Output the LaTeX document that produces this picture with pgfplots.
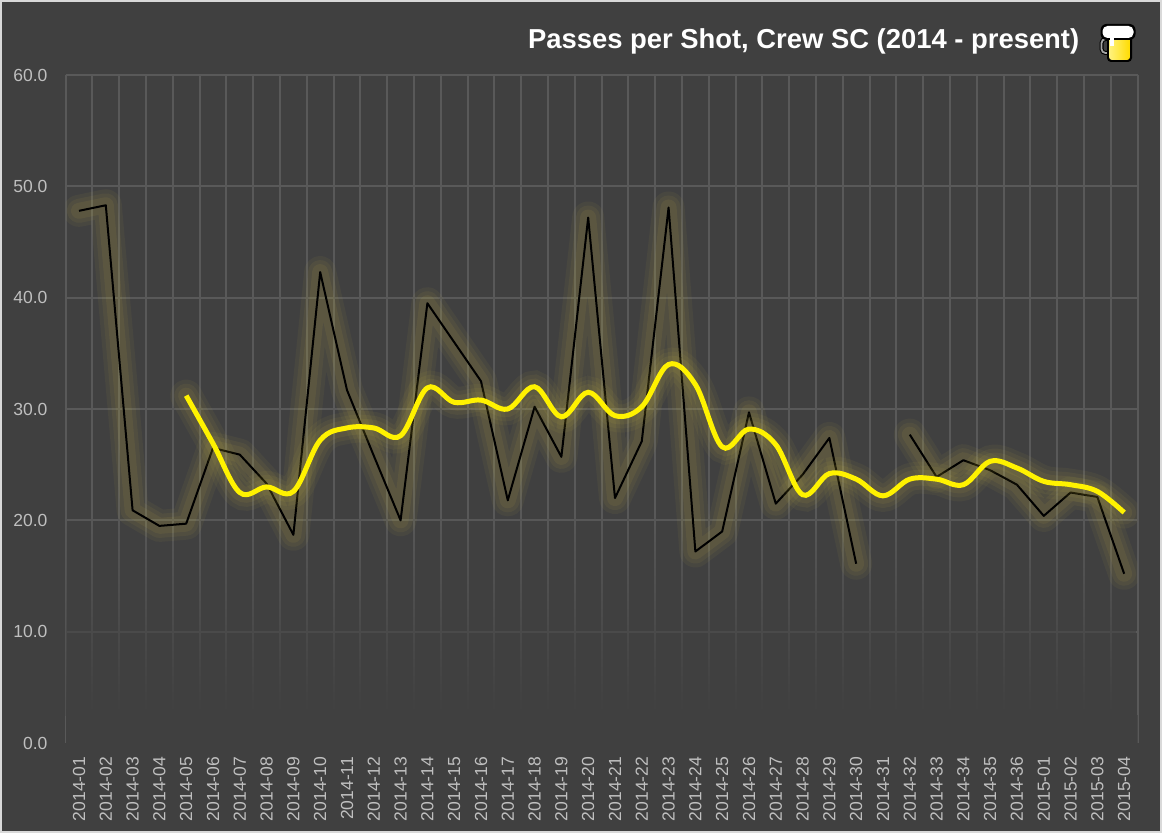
\documentclass[border=0pt]{standalone}
\usepackage{pgfplots}
\pgfplotsset{compat=1.18}
\usepackage{pgfplotstable}
\usepackage{fontspec}
\setmainfont{Liberation Sans}
\usetikzlibrary{fadings}
\definecolor{bgc}{RGB}{64,64,64}
\definecolor{gridc}{RGB}{89,89,89}
\definecolor{bordc}{RGB}{217,217,217}
\definecolor{tickc}{RGB}{191,191,191}
\definecolor{glowc}{RGB}{225,205,70}
\definecolor{mugy}{RGB}{255,230,0}
\tikzfading[name=gridfade, top color=transparent!100, bottom color=transparent!0]

\pgfplotstableread{
x y
0 47.8
1 48.3
2 20.9
3 19.5
4 19.7
5 26.5
6 25.9
7 23.3
8 18.7
9 42.3
10 31.7
11 25.8
12 20.0
13 39.5
14 36.0
15 32.5
16 21.8
17 30.2
18 25.7
19 47.2
20 22.0
21 27.1
22 48.1
23 17.2
24 19.0
25 29.7
26 21.5
27 24.1
28 27.4
29 16.1
30 nan
31 27.7
32 23.9
33 25.4
34 24.5
35 23.2
36 20.4
37 22.5
38 22.1
39 15.2
}\passes

\pgfplotstableread{
x y
4 31.2
5 26.9
6 22.5
7 23.0
8 22.6
9 27.2
10 28.3
11 28.3
12 27.6
13 31.9
14 30.6
15 30.8
16 30.0
17 32.0
18 29.3
19 31.5
20 29.4
21 30.2
22 34.0
23 32.2
24 26.6
25 28.2
26 26.8
27 22.3
28 24.2
29 23.7
30 22.2
31 23.7
32 23.7
33 23.2
34 25.3
35 24.7
36 23.5
37 23.2
38 22.6
39 20.7
}\avg

\begin{document}
\begin{tikzpicture}
\useasboundingbox (0,0) rectangle (1162pt,833pt);
\fill[bordc] (0,0) rectangle (1162pt,833pt);
\fill[bgc] (2pt,2pt) rectangle (1160pt,831pt);
\begin{axis}[
  at={(65.6pt,90pt)}, anchor=south west, scale only axis,
  width=1072pt, height=668pt,
  xmin=-0.5, xmax=39.5, ymin=0, ymax=60,
  xtick={0,...,39},
  xticklabels={2014-01,2014-02,2014-03,2014-04,2014-05,2014-06,2014-07,2014-08,2014-09,2014-10,2014-11,2014-12,2014-13,2014-14,2014-15,2014-16,2014-17,2014-18,2014-19,2014-20,2014-21,2014-22,2014-23,2014-24,2014-25,2014-26,2014-27,2014-28,2014-29,2014-30,2014-31,2014-32,2014-33,2014-34,2014-35,2014-36,2015-01,2015-02,2015-03,2015-04},
  minor xtick={-0.5,0.5,...,39.5},
  ytick={10,20,30,40,50,60},
  yticklabels={10.0,20.0,30.0,40.0,50.0,60.0},
  extra y ticks={0}, extra y tick labels={0.0}, extra y tick style={grid=none},
  xminorgrids=true, ymajorgrids=true, xmajorgrids=false,
  grid style={gridc, line width=2pt},
  minor grid style={gridc, line width=2pt},
  major grid style={gridc, line width=2pt},
  axis line style={draw=none},
  major tick length=0pt, minor tick length=0pt,
  tick style={draw=none},
  ticklabel style={font=\fontsize{17.5}{19}\selectfont, text=tickc},
  yticklabel style={anchor=east, inner sep=0pt, xshift=-18pt},
  xticklabel style={rotate=90, anchor=east, inner xsep=13.7pt, inner ysep=0pt},
  unbounded coords=jump,
]
\fill[bgc] (axis cs:-0.5,0) rectangle (axis cs:39.5,2.5);
\fill[bgc, path fading=gridfade] (axis cs:-0.5,2.4) rectangle (axis cs:39.5,21);
% glow for black series
\addplot[glowc, line width=32pt, opacity=0.05, line join=round, line cap=round, forget plot] table[x=x,y=y]{\passes};
\addplot[glowc, line width=24pt, opacity=0.06, line join=round, line cap=round, forget plot] table[x=x,y=y]{\passes};
\addplot[glowc, line width=16pt, opacity=0.07, line join=round, line cap=round, forget plot] table[x=x,y=y]{\passes};
\addplot[black, line width=2pt, line join=round] table[x=x,y=y]{\passes};
% glow for average series
\addplot[glowc, line width=32pt, opacity=0.05, line cap=round, smooth, tension=0.6, forget plot] table[x=x,y=y]{\avg};
\addplot[glowc, line width=24pt, opacity=0.06, line cap=round, smooth, tension=0.6, forget plot] table[x=x,y=y]{\avg};
\addplot[glowc, line width=16pt, opacity=0.07, line cap=round, smooth, tension=0.6, forget plot] table[x=x,y=y]{\avg};
\addplot[yellow, line width=5pt, smooth, tension=0.6] table[x=x,y=y]{\avg};
\end{axis}
\node[anchor=base east, text=white, font=\fontsize{27.4}{30}\selectfont\bfseries, inner sep=0pt] at (1079.5pt,784.7pt) {Passes per Shot, Crew SC (2014 - present)};
% beer mug icon
\draw[black, line width=4pt, rounded corners=4pt] (1110pt,780pt) -- (1101.5pt,780pt) -- (1101.5pt,794pt) -- (1110pt,794pt);
\draw[gray!70, line width=1.8pt, rounded corners=4pt] (1110pt,780pt) -- (1101.5pt,780pt) -- (1101.5pt,794pt) -- (1110pt,794pt);
\fill[black, rounded corners=4pt] (1107pt,771pt) rectangle (1132pt,798pt);
\shade[left color=mugy!50!white, right color=mugy!90!orange, rounded corners=3pt] (1109pt,773pt) rectangle (1130pt,796pt);
\fill[black, rounded corners=6pt] (1100.5pt,793pt) rectangle (1135.5pt,809pt);
\fill[white, rounded corners=5pt] (1102.5pt,795pt) rectangle (1133.5pt,807pt);
\fill[white] (1110pt,796pt) rectangle (1114pt,787pt);
\end{tikzpicture}
\end{document}
